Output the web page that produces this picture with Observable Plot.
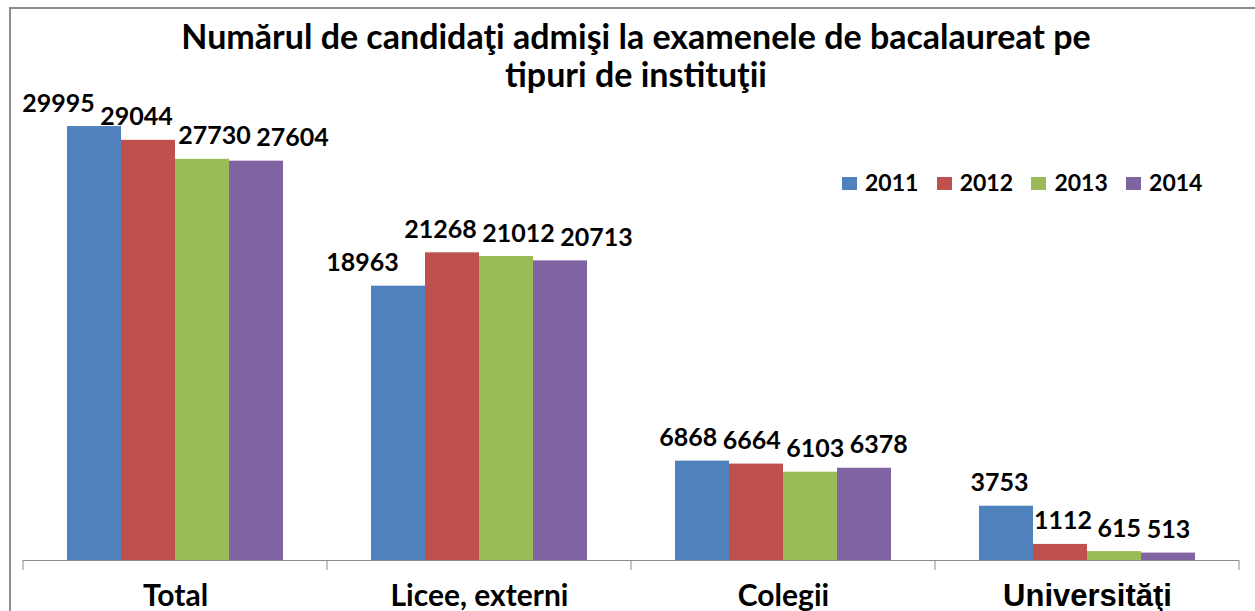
<!DOCTYPE html>
<html>
<head>
<meta charset="utf-8">
<script src="https://cdn.jsdelivr.net/npm/d3@7"></script>
<script src="https://cdn.jsdelivr.net/npm/@observablehq/plot@0.6"></script>
<style>
  html, body { margin: 0; padding: 0; background: #fff; }
  #wrap { position: relative; width: 1255px; height: 611px; overflow: hidden; }
  #border { position: absolute; left: 9px; top: 7px; width: 1300px; height: 700px;
            border-top: 2px solid #8e8e8e; border-left: 2px solid #8e8e8e; }
  #chart { position: absolute; left: 0; top: 0; }
  #title { position: absolute; left: 0; top: 17px; width: 1272px; text-align: center;
           font-family: Lato, sans-serif; font-weight: 700; font-size: 34px; line-height: 38px; color: #000; }
  .leg { position: absolute; top: 171px; font-family: Lato, sans-serif; font-weight: 700;
         font-size: 23px; line-height: 22px; color: #000; white-space: nowrap; }
  .leg span.sw { display: inline-block; width: 15px; height: 13px; margin-right: 8px; vertical-align: 1px; }
</style>
</head>
<body>
<div id="wrap">
  <div id="border"></div>
  <div id="chart"></div>
  <div id="title">Numărul de candidaţi admişi la examenele de bacalaureat pe<br>tipuri de instituţii</div>
  <div id="legend"></div>
</div>
<script>
const categories = ["Total", "Licee, externi", "Colegii", "Universităţi"];
const years = ["2011", "2012", "2013", "2014"];
const values2011 = [29995, 18963, 6868, 3753];
const values2012 = [29044, 21268, 6664, 1112];
const values2013 = [27730, 21012, 6103, 615];
const values2014 = [27604, 20713, 6378, 513];
const colors = ["#4F81BD", "#C0504D", "#9BBB59", "#8064A2"];

const series = [values2011, values2012, values2013, values2014];
const rows = categories.flatMap((c, i) => years.map((y, j) => ({category: c, year: y, value: series[j][i]})));

const W = 1255, H = 611, mL = 23, mR = 16, mT = 126, mB = 51;
const xPadOuter = 0.789;
const labelFont = "700 25px Lato";

// horizontal spreading of the value labels inside each group so they don't overlap
const step = ((W - mL - mR) / categories.length) / (years.length + 2 * xPadOuter);
const ctx = document.createElement("canvas").getContext("2d");
ctx.font = labelFont;
const labelShift = new Map();
categories.forEach(c => {
  const group = rows.filter(r => r.category === c);
  const widths = group.map(r => ctx.measureText(String(r.value)).width);
  const centers = group.map((r, j) => j * step);
  const pos = centers.slice();
  const gap = 6;
  for (let iter = 0; iter < 300; iter++) {
    for (let i = 0; i < pos.length - 1; i++) {
      const need = (widths[i] + widths[i + 1]) / 2 + gap;
      const d = pos[i + 1] - pos[i];
      if (d < need) {
        const s = (need - d) / 2;
        pos[i] -= s;
        pos[i + 1] += s;
      }
    }
  }
  group.forEach((r, i) => labelShift.set(r, pos[i] - centers[i]));
});

const labelMarks = rows.map(r => Plot.text([r], {
  fx: "category", x: "year", y: "value", text: d => String(d.value),
  dx: labelShift.get(r), dy: -23,
  fontFamily: "Lato, sans-serif", fontWeight: 700, fontSize: 25, fill: "#000"
}));

const plot = Plot.plot({
  width: W,
  height: H,
  marginLeft: mL,
  marginRight: mR,
  marginTop: mT,
  marginBottom: mB,
  fx: {domain: categories, padding: 0, axis: null},
  x: {domain: years, paddingInner: 0, paddingOuter: xPadOuter, axis: null},
  y: {domain: [0, 30000], axis: null},
  color: {domain: years, range: colors},
  style: {background: "transparent", overflow: "visible"},
  marks: [
    Plot.barY(rows, {fx: "category", x: "year", y: "value", fill: "year", inset: 0}),
    Plot.ruleY([0], {stroke: "#8c8c8c", strokeWidth: 1}),
    ...labelMarks,
    Plot.text(categories.filter(c => c !== "Universităţi"), {fx: d => d, frameAnchor: "bottom", text: d => d,
      dy: 45, fontFamily: "Lato, sans-serif", fontWeight: 700, fontSize: 30, fill: "#000"}),
    Plot.text(categories.filter(c => c === "Universităţi"), {fx: d => d, frameAnchor: "bottom", text: d => d,
      dy: 45, fontFamily: "'Liberation Sans', Arial, sans-serif", fontWeight: 700, fontSize: 31, fill: "#000"})
  ]
});
document.getElementById("chart").appendChild(plot);

const svg = d3.select(plot);

// category boundary ticks on the x axis
const fx = plot.scale("fx");
const y0 = plot.scale("y").apply(0);
const edges = categories.map(c => fx.apply(c));
edges.push(fx.apply(categories[categories.length - 1]) + fx.bandwidth);
svg.append("g").selectAll("line").data(edges).join("line")
  .attr("x1", d => d).attr("x2", d => d)
  .attr("y1", y0).attr("y2", y0 + 10)
  .attr("stroke", "#8c8c8c").attr("stroke-width", 1);

// legend
const legend = document.getElementById("legend");
years.forEach((y, i) => {
  const d = document.createElement("div");
  d.className = "leg";
  d.style.left = (842 + i * 94.7) + "px";
  d.innerHTML = `<span class="sw" style="background:${colors[i]}"></span>${y}`;
  legend.appendChild(d);
});
</script>
</body>
</html>
